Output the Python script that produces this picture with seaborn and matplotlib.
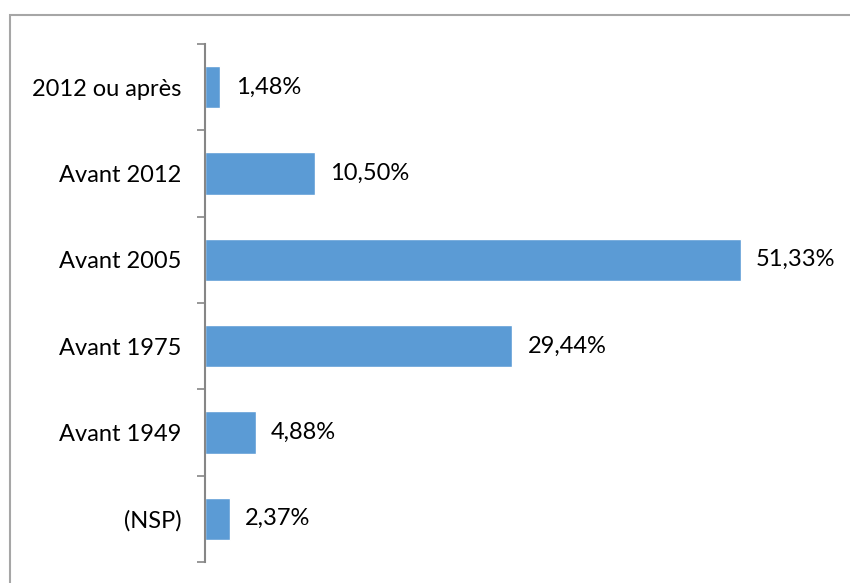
import matplotlib
matplotlib.use("Agg")
import matplotlib.pyplot as plt
import seaborn as sns
import pandas as pd
from matplotlib.patches import Rectangle
from matplotlib.ticker import FixedLocator

categories = ["2012 ou après", "Avant 2012", "Avant 2005", "Avant 1975", "Avant 1949", "(NSP)"]
values = [1.48, 10.50, 51.33, 29.44, 4.88, 2.37]
labels = ["1,48%", "10,50%", "51,33%", "29,44%", "4,88%", "2,37%"]

sns.set_style("white")
plt.rcParams['font.family'] = ['Lato', 'DejaVu Sans']

df = pd.DataFrame({"cat": categories, "val": values})

fig = plt.figure(figsize=(8.5, 5.83), dpi=100)
fig.patches.append(Rectangle((10/850, -0.1), 1.2, 1 - 15/583 + 0.1, transform=fig.transFigure,
                             fill=False, edgecolor="#A6A6A6", linewidth=1.5))
ax = fig.add_axes([205/850, 1 - 562/583, 626/850, (562 - 44)/583])
sns.barplot(data=df, x="val", y="cat", orient="h", color="#5B9BD5", width=0.49,
            saturation=1, ax=ax)
ax.set_xlim(0, 60)
ax.set_ylim(len(categories) - 0.5, -0.5)
ax.set_xlabel("")
ax.set_ylabel("")
ax.set_xticks([])
for s in ["top", "right", "bottom"]:
    ax.spines[s].set_visible(False)
ax.spines["left"].set_color("#868686")
ax.spines["left"].set_linewidth(1.5)
ax.set_yticks(range(len(categories)))
ax.set_yticklabels(categories, fontsize=17, color="black")
ax.tick_params(axis="y", which="major", left=True, length=0, pad=17)
ax.yaxis.set_minor_locator(FixedLocator([i - 0.5 for i in range(len(categories) + 1)]))
ax.tick_params(axis="y", which="minor", left=True, length=5.5, width=1.2,
               color="#868686", direction="out")

for i, (v, t) in enumerate(zip(values, labels)):
    ax.annotate(t, xy=(v, i), xytext=(11, 0), textcoords="offset points",
                va="center", ha="left", fontsize=17, color="black")

fig.savefig("out.png", dpi=100)
